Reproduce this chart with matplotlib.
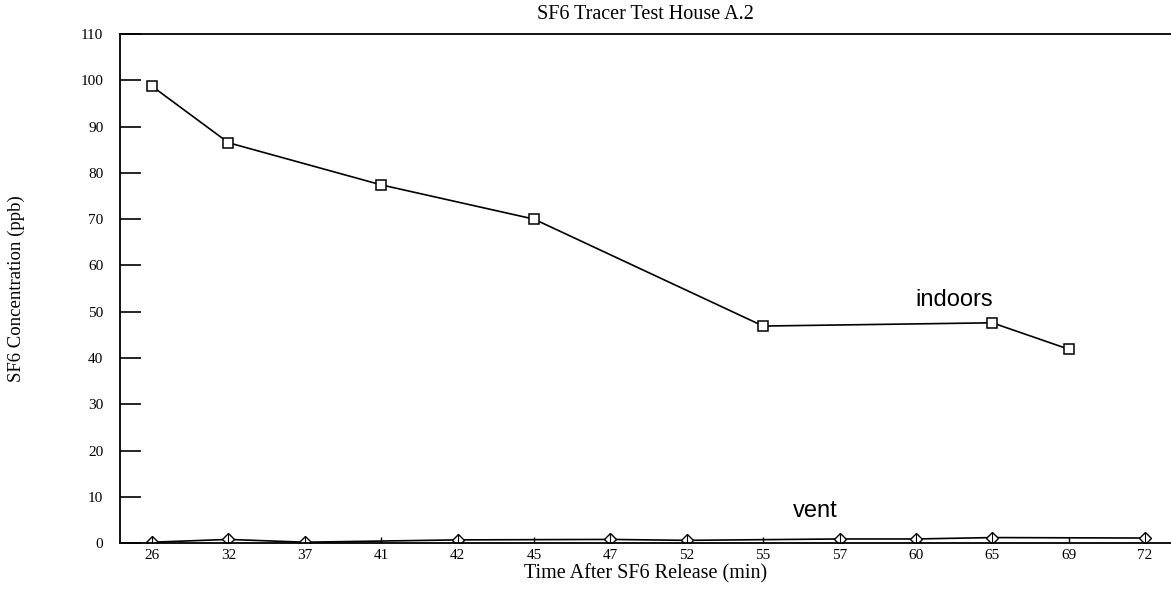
import numpy as np
import matplotlib.pyplot as plt

# category labels on the x axis (minutes after release)
times = ['26', '32', '37', '41', '42', '45', '47', '52', '55', '57', '60', '65', '69', '72']

# indoors readings
indoor_times = ['26', '32', '41', '45', '55', '65', '69']
indoor_ppb = [98.7, 86.5, 77.4, 70.0, 46.9, 47.6, 41.9]

# vent readings
vent_times = ['26', '32', '37', '42', '47', '52', '57', '60', '65', '72']
vent_ppb = [0.2, 0.8, 0.2, 0.7, 0.8, 0.6, 0.9, 0.9, 1.2, 1.1]

pos = {t: i for i, t in enumerate(times)}

plt.rcParams['font.family'] = ['Liberation Serif', 'DejaVu Serif']

fig = plt.figure(figsize=(11.71, 5.91), dpi=100)
ax = fig.add_axes([0.1025, 0.081, 0.8975, 0.8615])

ax.plot([pos[t] for t in indoor_times], indoor_ppb, color='black', lw=1.2,
        marker='s', markersize=7, markerfacecolor='white', markeredgecolor='black',
        markeredgewidth=1.1)
ax.plot([pos[t] for t in vent_times], vent_ppb, color='black', lw=1.2,
        marker='D', markersize=6.5, markerfacecolor='white', markeredgecolor='black',
        markeredgewidth=1.0)
ax.plot([pos[t] for t in vent_times], vent_ppb, ls='none', marker='|',
        markersize=8, color='black', markeredgewidth=0.8)

ax.set_xlim(-0.42, 13.34)
ax.set_ylim(0, 110)
ax.set_xticks(range(len(times)))
ax.set_xticklabels(times)
ax.set_yticks(np.arange(0, 111, 10))

ax.tick_params(axis='y', direction='in', length=15, width=1.2, labelsize=11, pad=12)
ax.tick_params(axis='x', direction='in', length=4, width=1, labelsize=11, pad=4)

ax.spines['right'].set_visible(False)
for s in ['left', 'top', 'bottom']:
    ax.spines[s].set_linewidth(1.3)

ax.text(10.5, 52.5, 'indoors', family='Liberation Sans', fontsize=17,
        ha='center', va='center')
ax.text(8.68, 7.0, 'vent', family='Liberation Sans', fontsize=17,
        ha='center', va='center')

ax.set_title('SF6 Tracer Test House A.2', fontsize=14.5, pad=11)
ax.set_xlabel('Time After SF6 Release (min)', fontsize=14.5, labelpad=2)
ax.set_ylabel('SF6 Concentration (ppb)', fontsize=13.5, labelpad=40)

fig.savefig('out.png', dpi=100)
